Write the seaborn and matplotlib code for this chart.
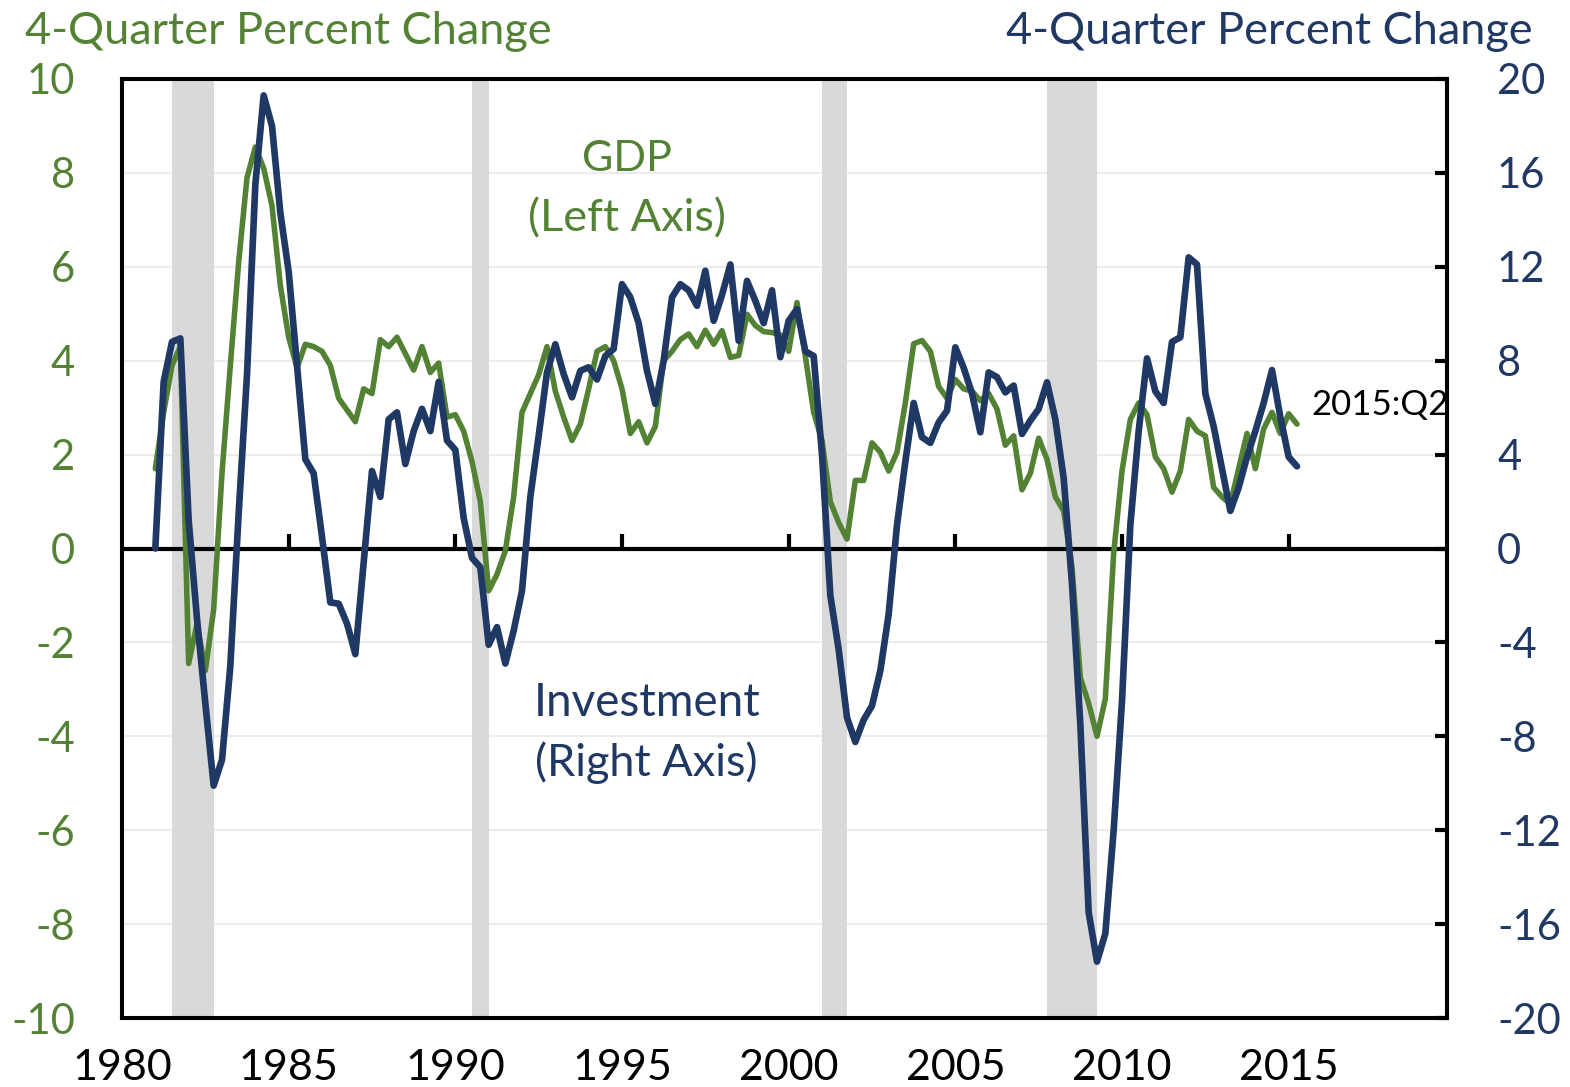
import numpy as np
import pandas as pd
import matplotlib
matplotlib.use("Agg")
import matplotlib.pyplot as plt
import seaborn as sns

# ---------------- data (quarterly, 1981:Q1 .. 2015:Q2) ----------------
start_year = 1981
gdp = [
    1.7, 2.9, 3.9, 4.3,        # 1981
    -2.45, -1.6, -2.6, -1.3,   # 1982
    1.6, 3.9, 6.1, 7.9,        # 1983
    8.55, 8.1, 7.3, 5.6,       # 1984
    4.5, 3.85, 4.35, 4.3,      # 1985
    4.2, 3.9, 3.2, 2.95,       # 1986
    2.7, 3.4, 3.3, 4.45,       # 1987
    4.3, 4.5, 4.15, 3.8,       # 1988
    4.3, 3.75, 3.95, 2.8,      # 1989
    2.85, 2.5, 1.85, 1.0,      # 1990
    -0.9, -0.55, -0.05, 1.1,   # 1991
    2.9, 3.3, 3.7, 4.3,        # 1992
    3.35, 2.8, 2.3, 2.65,      # 1993
    3.4, 4.2, 4.3, 4.0,        # 1994
    3.4, 2.45, 2.7, 2.25,      # 1995
    2.6, 4.0, 4.2, 4.45,       # 1996
    4.57, 4.3, 4.65, 4.35,     # 1997
    4.64, 4.07, 4.11, 4.99,    # 1998
    4.75, 4.62, 4.6, 4.55,     # 1999
    4.2, 5.24, 4.1, 2.9,       # 2000
    2.3, 1.0, 0.55, 0.2,       # 2001
    1.45, 1.45, 2.25, 2.05,    # 2002
    1.65, 2.05, 3.1, 4.36,     # 2003
    4.43, 4.2, 3.45, 3.2,      # 2004
    3.6, 3.4, 3.35, 3.15,      # 2005
    3.3, 2.97, 2.2, 2.4,       # 2006
    1.25, 1.6, 2.35, 1.9,      # 2007
    1.1, 0.8, -0.4, -2.75,     # 2008
    -3.3, -4.0, -3.2, -0.1,    # 2009
    1.65, 2.75, 3.1, 2.85,     # 2010
    1.95, 1.7, 1.2, 1.65,      # 2011
    2.75, 2.5, 2.4, 1.3,       # 2012
    1.1, 0.95, 1.7, 2.45,      # 2013
    1.7, 2.55, 2.9, 2.45,      # 2014
    2.87, 2.65,                # 2015
]
investment = [
    0.0, 7.1, 8.8, 8.95,       # 1981
    1.2, -3.0, -6.6, -10.1,    # 1982
    -9.0, -5.0, 1.5, 7.4,      # 1983
    15.5, 19.3, 18.0, 14.3,    # 1984
    11.8, 7.8, 3.8, 3.2,       # 1985
    0.5, -2.3, -2.35, -3.2,    # 1986
    -4.5, -0.6, 3.3, 2.2,      # 1987
    5.5, 5.8, 3.6, 5.0,        # 1988
    5.95, 5.0, 7.1, 4.6,       # 1989
    4.2, 1.3, -0.4, -0.8,      # 1990
    -4.1, -3.35, -4.9, -3.5,   # 1991
    -1.8, 2.2, 4.8, 7.5,       # 1992
    8.7, 7.43, 6.44, 7.57,     # 1993
    7.72, 7.2, 8.2, 8.5,       # 1994
    11.26, 10.7, 9.6, 7.57,    # 1995
    6.16, 8.0, 10.7, 11.26,    # 1996
    11.0, 10.34, 11.83, 9.7,   # 1997
    10.8, 12.1, 8.85, 11.4,    # 1998
    10.55, 9.6, 11.0, 8.15,    # 1999
    9.7, 10.2, 8.4, 8.2,       # 2000
    4.0, -2.0, -4.3, -7.2,     # 2001
    -8.24, -7.3, -6.7, -5.2,   # 2002
    -2.8, 1.0, 3.7, 6.2,       # 2003
    4.74, 4.5, 5.37, 5.87,     # 2004
    8.57, 7.7, 6.6, 4.95,      # 2005
    7.5, 7.3, 6.65, 6.94,      # 2006
    4.88, 5.45, 5.94, 7.08,    # 2007
    5.5, 3.0, -1.5, -7.5,      # 2008
    -15.5, -17.6, -16.4, -12.0,  # 2009
    -6.5, 1.0, 5.0, 8.1,       # 2010
    6.7, 6.2, 8.8, 9.0,        # 2011
    12.4, 12.1, 6.6, 5.2,      # 2012
    3.4, 1.6, 2.6, 3.9,        # 2013
    5.0, 6.2, 7.6, 5.6,        # 2014
    3.9, 3.5,                  # 2015
]
recession_start = [1981.5, 1990.5, 2001.0, 2007.75]
recession_end = [1982.75, 1991.0, 2001.75, 2009.25]
x_tick_years = [1980, 1985, 1990, 1995, 2000, 2005, 2010, 2015]
left_ticks = [-10, -8, -6, -4, -2, 0, 2, 4, 6, 8, 10]
right_ticks = [-20, -16, -12, -8, -4, 0, 4, 8, 12, 16, 20]
axis_title = "4-Quarter Percent Change"
end_label = "2015:Q2"

GREEN = "#548235"
NAVY = "#1f3864"
SHADE = "#d9d9d9"

sns.set_theme(style="white")
plt.rcParams["font.family"] = ["Lato", "DejaVu Sans"]
plt.rcParams["axes.unicode_minus"] = False

n = len(gdp)
period = start_year + np.arange(n) / 4.0
df = pd.DataFrame({"period": period, "gdp": gdp, "investment": investment})

W, H = 1570, 1087
fig = plt.figure(figsize=(W / 100, H / 100), dpi=100)
ax = fig.add_axes([122 / W, 1 - 1018 / H, (1447 - 122) / W, (1018 - 79) / H])
ax2 = ax.twinx()

# recession shading
for s, e in zip(recession_start, recession_end):
    ax.axvspan(s, e, color=SHADE, lw=0, zorder=1)

ax.set_xlim(1980, 2019.75)
ax.set_ylim(-10, 10)
ax2.set_ylim(-20, 20)

ax.set_yticks(left_ticks)
ax2.set_yticks(right_ticks)
ax.set_xticks(x_tick_years)

ax.yaxis.grid(True, color="#ececec", lw=1.5, zorder=0)
ax.set_axisbelow(True)

# zero line with year ticks on it
ax.axhline(0, color="black", lw=3.0, zorder=2)
ax.vlines(x_tick_years[1:], 0, 0.3, color="black", lw=3.0, zorder=2)

sns.lineplot(data=df, x="period", y="gdp", ax=ax, color=GREEN, lw=4.0, zorder=3)
sns.lineplot(data=df, x="period", y="investment", ax=ax2, color=NAVY, lw=4.8, zorder=3)

ax.set_xlabel("")
ax.set_ylabel("")
ax2.set_xlabel("")
ax2.set_ylabel("")

ax.tick_params(axis="y", length=0, pad=34, labelsize=30, labelcolor=GREEN)
ax.tick_params(axis="x", length=0, pad=22, labelsize=31, labelcolor="black")
ax2.tick_params(axis="y", direction="in", length=8.5, width=3, color="black",
                pad=36, labelsize=30, labelcolor=NAVY)

for a in (ax, ax2):
    for sp in a.spines.values():
        sp.set_linewidth(2.9)
        sp.set_color("black")
        sp.set_visible(True)

# annotations
ax.text(1995.14, 8.3, "GDP", color=GREEN, fontsize=31, ha="center", va="center")
ax.text(1995.14, 7.02, "(Left Axis)", color=GREEN, fontsize=32.5, ha="center", va="center")
ax.text(1995.74, -3.3, "Investment", color=NAVY, fontsize=33, ha="center", va="center")
ax.text(1995.74, -4.57, "(Right Axis)", color=NAVY, fontsize=32.5, ha="center", va="center")
ax.text(2015.67, 3.05, end_label, color="black", fontsize=25, ha="left", va="center")

fig.text(25 / W, 1 - 31 / H, axis_title, color=GREEN, fontsize=32.5, ha="left", va="center")
fig.text(1533 / W, 1 - 31 / H, axis_title, color=NAVY, fontsize=32.5, ha="right", va="center")

fig.savefig("out.png", dpi=100)
